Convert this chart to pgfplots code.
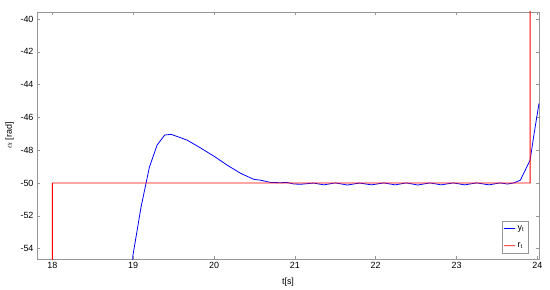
\documentclass[border=0pt]{standalone}
\usepackage{fontspec}
\setmainfont{Liberation Sans}
\usepackage{pgfplots}
\pgfplotsset{compat=1.18}
\definecolor{axgray}{RGB}{150,150,150}
\definecolor{myred}{RGB}{255,0,0}
\definecolor{myblue}{RGB}{0,0,255}
\begin{document}
\begin{tikzpicture}[font=\fontsize{9}{10}\selectfont]
\begin{axis}[
  scale only axis,
  width=502bp, height=247bp,
  xmin=17.81, xmax=24.02,
  ymin=-54.63, ymax=-39.57,
  xtick={18,19,20,21,22,23,24},
  ytick={-54,-52,-50,-48,-46,-44,-42,-40},
  tick align=inside,
  xtick pos=both, ytick pos=both,
  major tick length=3bp,
  axis line style={axgray},
  tick style={axgray, line width=0.5pt},
  /pgf/number format/assume math mode=true,
  tick label style={font=\fontsize{9}{10}\selectfont, black},
  xlabel={t[s]},
  ylabel={$\alpha$ [rad]},
  label style={font=\fontsize{9}{10}\selectfont},
  xlabel style={yshift=-2bp},
  legend style={at={(0.978,0.024)}, anchor=south east,
    draw=axgray, font=\fontsize{9}{10}\selectfont, row sep=7bp,
    inner xsep=1.5pt, inner ysep=2pt},
  legend cell align=left,
  legend image code/.code={\draw[#1] (0cm,0pt) -- (0.2cm,0.02pt) -- (0.4cm,0pt);},
]
\addplot[draw=myblue, line width=0.8pt] coordinates {
(18.994,-54.9) (18.994,-54.49) (19.098,-51.44) (19.2,-49.04) (19.296,-47.68)
(19.39,-47.07) (19.47,-47.03) (19.667,-47.38) (19.83,-47.85) (19.996,-48.35)
(20.16,-48.9) (20.33,-49.41) (20.49,-49.77) (20.57,-49.82) (20.70,-49.96)
(20.82,-49.98) (20.90,-49.96) (20.99,-50.06) (21.08,-50.07)
(21.23,-50.00) (21.36,-50.11) (21.50,-49.99) (21.65,-50.12)
(21.80,-50.00) (21.95,-50.11) (22.10,-49.99) (22.24,-50.11)
(22.38,-49.99) (22.52,-50.12) (22.67,-49.99) (22.81,-50.11)
(22.96,-49.99) (23.10,-50.11) (23.25,-49.99) (23.40,-50.11)
(23.54,-49.99) (23.63,-50.06) (23.71,-49.99) (23.79,-49.82)
(23.91,-48.6) (23.96,-46.97) (24.02,-45.14)
};
\addlegendentry{$\mathrm{y_t}$}
\addplot[draw=myred, line width=0.8pt] coordinates {
(18,-56) (18,-50) (21,-50.0005) (23.91,-50) (23.91,-38)
};
\addlegendentry{$\mathrm{r_t}$}
\end{axis}
\pgfresetboundingbox
\path[use as bounding box] ([xshift=-37bp,yshift=-31bp]current axis.south west) rectangle ([xshift=11bp,yshift=12bp]current axis.north east);
\end{tikzpicture}
\end{document}
